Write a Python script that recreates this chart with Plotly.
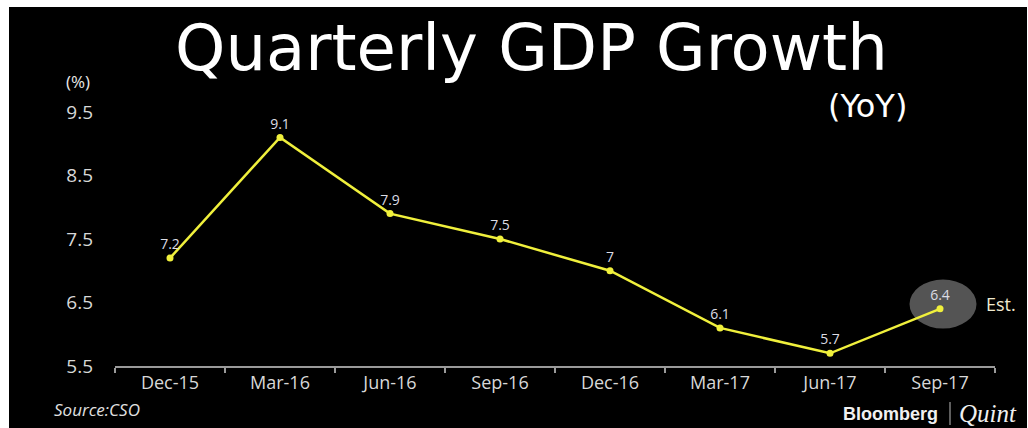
import plotly.graph_objects as go

quarters = ["Dec-15", "Mar-16", "Jun-16", "Sep-16", "Dec-16", "Mar-17", "Jun-17", "Sep-17"]
gdp_growth = [7.2, 9.1, 7.9, 7.5, 7.0, 6.1, 5.7, 6.4]
point_labels = ["7.2", "9.1", "7.9", "7.5", "7", "6.1", "5.7", "6.4"]
y_ticks = [5.5, 6.5, 7.5, 8.5, 9.5]

W, H = 1028, 428
L, R, T, B = 115, 33, 112, 62
pw, ph = W - L - R, H - T - B

def px(x):
    return (x - L) / pw

def py(y):
    return (H - B - y) / ph

fig = go.Figure()

# estimate highlight
fig.add_shape(type="circle", xref="x", yref="y",
              x0=7 + 3/110 - 33.5/110, x1=7 + 3/110 + 33.5/110,
              y0=6.476 - 24.5/63.5, y1=6.476 + 24.5/63.5,
              fillcolor="#545454", line=dict(width=0), layer="below")

fig.add_trace(go.Scatter(
    x=quarters, y=gdp_growth, mode="lines+markers+text",
    text=point_labels, textposition="top center",
    textfont=dict(family="Open Sans", size=14, color="#dcdce4"),
    line=dict(color="#f0f03c", width=2.5),
    marker=dict(color="#f0f03c", size=7),
    hoverinfo="skip", cliponaxis=False,
))

fig.update_xaxes(type="category", range=[-0.5, 7.5], showgrid=False, zeroline=False,
                 showline=True, linecolor="#9a9a9a", linewidth=1.5,
                 ticks="outside", tickson="boundaries", ticklen=5, tickcolor="#9a9a9a", tickwidth=1.5,
                 tickfont=dict(family="Open Sans", size=18, color="#d8d8d8"))
fig.update_yaxes(range=[5.5, 9.5], tickvals=y_ticks, ticktext=[f"{v:.1f}" for v in y_ticks],
                 showgrid=False, zeroline=False, showline=False, ticks="",
                 ticklabelstandoff=21,
                 tickfont=dict(family="Open Sans", size=19, color="#d8d8d8"))

ann = []
ann.append(dict(text="Quarterly GDP Growth", x=px(531), y=py(48), xref="paper", yref="paper",
                xanchor="center", yanchor="middle", showarrow=False,
                font=dict(family="DejaVu Sans", size=64, color="white")))
ann.append(dict(text="(YoY)", x=px(867), y=py(106), xref="paper", yref="paper",
                xanchor="center", yanchor="middle", showarrow=False,
                font=dict(family="DejaVu Sans", size=32, color="white")))
ann.append(dict(text="(%)", x=px(64), y=py(81), xref="paper", yref="paper",
                xanchor="left", yanchor="middle", showarrow=False,
                font=dict(family="Open Sans", size=17, color="#e8e8e8")))
ann.append(dict(text="Est.", x=px(984), y=py(304), xref="paper", yref="paper",
                xanchor="left", yanchor="middle", showarrow=False,
                font=dict(family="Open Sans", size=18, color="#f0ead0")))
ann.append(dict(text="<i>Source:CSO</i>", x=px(52), y=py(409), xref="paper", yref="paper",
                xanchor="left", yanchor="middle", showarrow=False,
                font=dict(family="Open Sans", size=17, color="#e0e0e0")))
ann.append(dict(text="<b>Bloomberg</b>", x=px(940), y=py(414), xref="paper", yref="paper",
                xanchor="right", yanchor="middle", showarrow=False,
                font=dict(family="Liberation Sans", size=18, color="#f0f0f0")))
ann.append(dict(text="<i>Quint</i>", x=px(957), y=py(413), xref="paper", yref="paper",
                xanchor="left", yanchor="middle", showarrow=False,
                font=dict(family="Liberation Serif", size=25, color="#f0f0f0")))
fig.add_shape(type="line", xref="paper", yref="paper", x0=px(950), x1=px(950),
              y0=py(402), y1=py(425), line=dict(color="#bbbbbb", width=1))

# white border strips
fig.add_shape(type="rect", xref="paper", yref="paper", x0=px(0), x1=px(9), y0=py(H + 2), y1=py(-2),
              fillcolor="white", line=dict(width=0), layer="above")
fig.add_shape(type="rect", xref="paper", yref="paper", x0=px(0), x1=px(W + 2), y0=py(7), y1=py(-2),
              fillcolor="white", line=dict(width=0), layer="above")
fig.add_shape(type="rect", xref="paper", yref="paper", x0=px(1027), x1=px(W + 2), y0=py(H + 2), y1=py(-2),
              fillcolor="white", line=dict(width=0), layer="above")

fig.update_layout(width=W, height=H, margin=dict(l=L, r=R, t=T, b=B),
                  paper_bgcolor="black", plot_bgcolor="black",
                  showlegend=False, annotations=ann)

fig.write_html("out.html")
